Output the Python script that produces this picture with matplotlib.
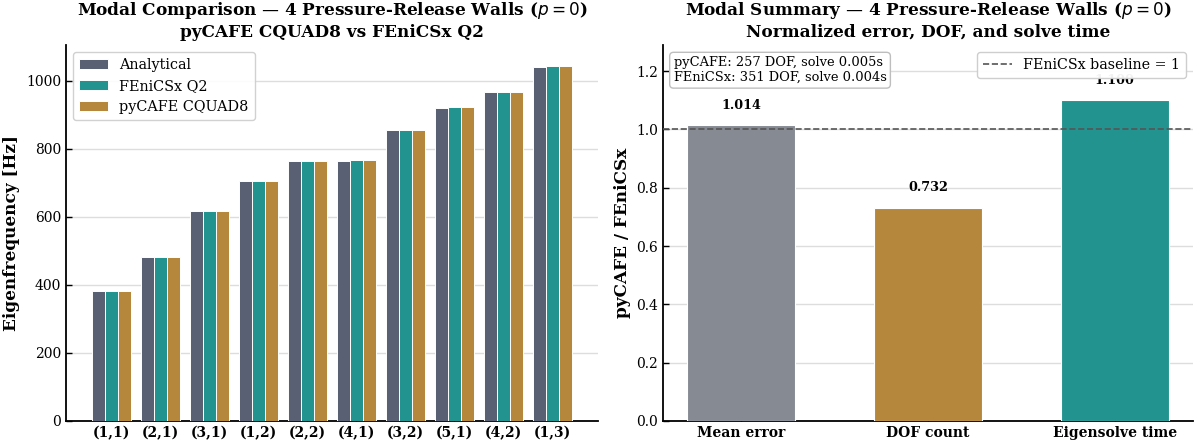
import numpy as np
import matplotlib
matplotlib.use("Agg")
import matplotlib.pyplot as plt

# ---- data ----
modes = ["(1,1)", "(2,1)", "(3,1)", "(1,2)", "(2,2)", "(4,1)", "(3,2)", "(5,1)", "(4,2)", "(1,3)"]
analytical = [382, 483, 616, 705, 764, 765, 855, 921, 966, 1040]
fenicsx_q2 = [382.2, 483.3, 616.6, 705.6, 764.6, 765.6, 856.2, 922.3, 967.4, 1044]
pycafe_cquad8 = [382.2, 483.3, 616.6, 705.6, 764.6, 765.6, 856.2, 922.3, 967.4, 1044]

summary_cats = ["Mean error", "DOF count", "Eigensolve time"]
summary_vals = [1.014, 0.732, 1.100]
info_text = "pyCAFE: 257 DOF, solve 0.005s\nFEniCSx: 351 DOF, solve 0.004s"

# ---- style ----
plt.rcParams['font.family'] = ['DejaVu Serif']
plt.rcParams['mathtext.fontset'] = 'dejavusans'

c_ana = "#596074"
c_fen = "#22938f"
c_pyc = "#b5873d"
c_gray = "#858a93"

fig = plt.figure(figsize=(12, 4.45), dpi=100)
ax1 = fig.add_axes([0.055, 0.054, 0.4433, 0.845])
ax2 = fig.add_axes([0.5525, 0.054, 0.4417, 0.845])

x = np.arange(len(modes))
w = 0.27
ax1.bar(x - w, analytical, w, color=c_ana, edgecolor="white", linewidth=0.7, label="Analytical", zorder=3)
ax1.bar(x, fenicsx_q2, w, color=c_fen, edgecolor="white", linewidth=0.7, label="FEniCSx Q2", zorder=3)
ax1.bar(x + w, pycafe_cquad8, w, color=c_pyc, edgecolor="white", linewidth=0.7, label="pyCAFE CQUAD8", zorder=3)
ax1.set_xticks(x)
ax1.set_xticklabels(modes, fontweight="bold", fontsize=10.5)
ax1.set_xlim(-0.93, 9.93)
ax1.set_ylim(0, 1105)
ax1.set_ylabel("Eigenfrequency [Hz]", fontweight="bold", fontsize=12.2)
ax1.set_title("Modal Comparison — 4 Pressure-Release Walls ($p=0$)\npyCAFE CQUAD8 vs FEniCSx Q2",
              fontweight="bold", fontsize=12.2)
leg1 = ax1.legend(loc="upper left", fontsize=10.4, framealpha=0.9, fancybox=True)

xs = np.arange(len(summary_cats))
ax2.bar(xs, summary_vals, 0.58, color=[c_gray, c_pyc, c_fen], edgecolor="white", linewidth=0.8, zorder=3)
for xi, v in zip(xs, summary_vals):
    ax2.text(xi, v + 0.045, f"{v:.3f}", ha="center", va="bottom", fontweight="bold", fontsize=9.2, zorder=2)
ax2.axhline(1.0, color="#555555", linestyle="--", linewidth=1.2, label="FEniCSx baseline = 1", zorder=4)
ax2.set_xticks(xs)
ax2.set_xticklabels(summary_cats, fontweight="bold", fontsize=10.3)
ax2.set_ylim(0, 1.29)
ax2.set_ylabel("pyCAFE / FEniCSx", fontweight="bold", fontsize=12.2)
ax2.set_title("Modal Summary — 4 Pressure-Release Walls ($p=0$)\nNormalized error, DOF, and solve time",
              fontweight="bold", fontsize=12.2)
leg2 = ax2.legend(loc="upper right", fontsize=10.3, framealpha=0.95, fancybox=True)
leg2.set_zorder(10)
ax2.text(0.02, 0.97, info_text, transform=ax2.transAxes, ha="left", va="top", fontsize=9.4,
         bbox=dict(boxstyle="round,pad=0.3", facecolor="white", edgecolor="#bbbbbb", alpha=0.95), zorder=10)

for ax in (ax1, ax2):
    ax.spines["top"].set_visible(False)
    ax.spines["right"].set_visible(False)
    ax.spines["left"].set_linewidth(1.3)
    ax.spines["bottom"].set_linewidth(1.3)
    ax.yaxis.grid(True, color="#dddddd", linewidth=1.0, zorder=0)
    ax.set_axisbelow(True)
    ax.tick_params(direction="in", length=4, width=1.0, labelsize=10)

fig.savefig("out.png", dpi=100)
